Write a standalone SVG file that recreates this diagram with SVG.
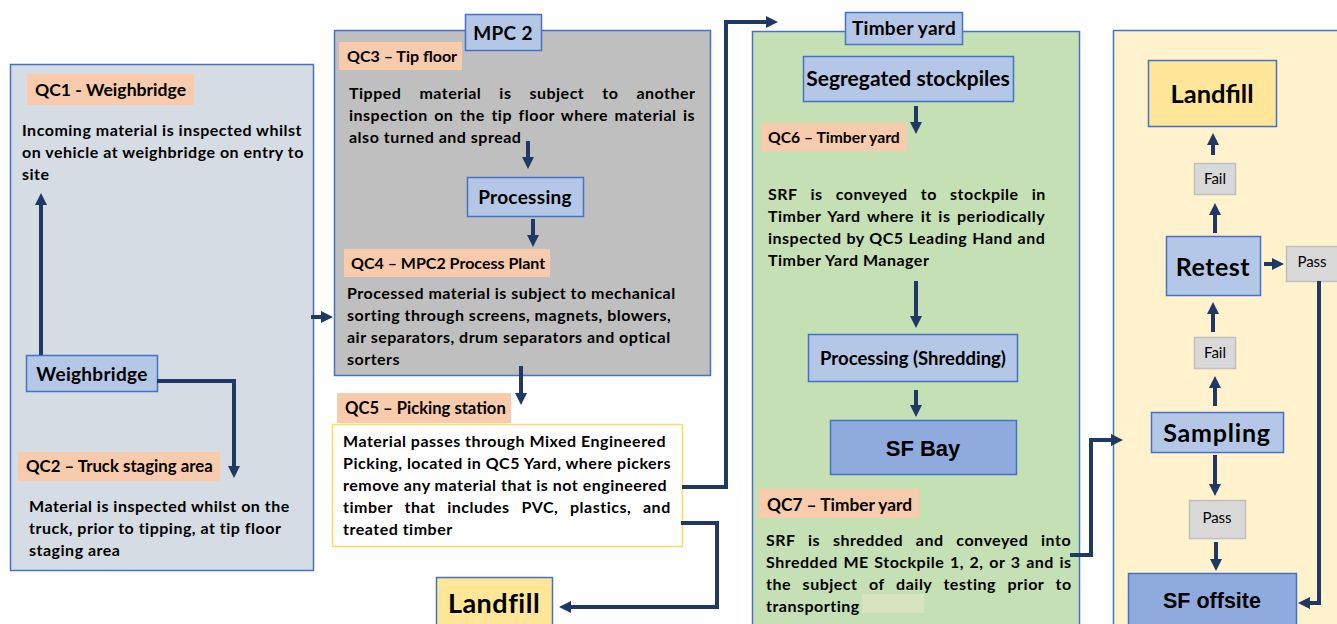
<svg xmlns="http://www.w3.org/2000/svg" width="1337" height="624" viewBox="0 0 1337 624">
<style>
text{font-family:Lato,"Open Sans","Liberation Sans",sans-serif;font-weight:bold;fill:#000}
.b{font-size:16px;letter-spacing:0.5px}
.lab{font-size:16px}
.box{fill:#b4c7e7;stroke:#4472c4;stroke-width:1.5}
.qc{fill:#f8cbad}
.ttl{font-size:19px;text-anchor:middle;letter-spacing:0.3px}
.fp{fill:#d9d9d9;stroke:#bfbfbf;stroke-width:1.5}
.fpt{font-weight:normal;font-size:15px;text-anchor:middle}
.sf{fill:#8faadc;stroke:#4472c4;stroke-width:1.5}
.ari{font-family:"Liberation Sans",Arial,sans-serif;text-anchor:middle}
.lf{fill:#ffe699;stroke:#4472c4;stroke-width:1.5}
.c{fill:none;stroke:#203864;stroke-width:4;marker-end:url(#ah)}
</style>
<defs>
<marker id="ah" markerUnits="userSpaceOnUse" markerWidth="12" markerHeight="12" viewBox="0 0 12 12" refX="4" refY="6" orient="auto">
<path d="M0,0 L12,6 L0,12 z" fill="#203864"/>
</marker>
</defs>
<rect width="1337" height="624" fill="#fff"/>

<g id="panel-weighbridge">
<rect x="10.5" y="64.5" width="303" height="506" fill="#d6dce4" stroke="#4472c4" stroke-width="1.5"/>
<rect class="qc" x="27" y="74" width="167" height="31"/>
<text x="35" y="96" font-size="17.6">QC1 - Weighbridge</text>
<text class="b" x="22" y="136">Incoming material is inspected whilst</text>
<text class="b" x="22" y="158">on vehicle at weighbridge on entry to</text>
<text class="b" x="22" y="180">site</text>
<rect class="qc" x="18" y="452" width="202" height="29"/>
<text x="26" y="472" font-size="16.8">QC2 – Truck staging area</text>
<text class="b" x="29" y="512">Material is inspected whilst on the</text>
<text class="b" x="29" y="534">truck, prior to tipping, at tip floor</text>
<text class="b" x="29" y="556">staging area</text>
</g>
<g id="node-weighbridge">
<rect class="box" x="26.5" y="355.5" width="131" height="36"/>
<text class="ttl" x="92" y="381">Weighbridge</text>
</g>

<g id="panel-mpc2">
<rect x="334.5" y="30.5" width="376" height="345" fill="#bfbfbf" stroke="#4472c4" stroke-width="1.5"/>
<rect class="qc" x="339" y="42" width="123" height="28"/>
<text class="lab" x="347" y="62">QC3 – Tip floor</text>
<text class="b" x="349" y="99" word-spacing="13.6">Tipped material is subject to another</text>
<text class="b" x="349" y="121" word-spacing="2.1">inspection on the tip floor where material is</text>
<text class="b" x="349" y="143">also turned and spread</text>
<rect class="qc" x="344" y="249" width="206" height="28"/>
<text class="lab" x="351" y="269">QC4 – MPC2 Process Plant</text>
<text class="b" x="347" y="299">Processed material is subject to mechanical</text>
<text class="b" x="347" y="321">sorting through screens, magnets, blowers,</text>
<text class="b" x="347" y="343">air separators, drum separators and optical</text>
<text class="b" x="347" y="365">sorters</text>
</g>
<g id="node-mpc2-title">
<rect class="box" x="465.5" y="14.5" width="76" height="36"/>
<text class="ttl" x="503" y="40">MPC 2</text>
</g>
<g id="node-processing">
<rect class="box" x="467.5" y="177.5" width="116" height="39"/>
<text class="ttl" x="525" y="204" font-size="20">Processing</text>
</g>

<g id="node-picking">
<rect class="qc" x="337" y="393" width="174" height="30"/>
<text x="345" y="414" font-size="16.6">QC5 – Picking station</text>
<rect x="332.5" y="424.5" width="350" height="122" fill="#fff" stroke="#ffd966" stroke-width="1.5"/>
<text class="b" x="343" y="447">Material passes through Mixed Engineered</text>
<text class="b" x="343" y="469">Picking, located in QC5 Yard, where pickers</text>
<text class="b" x="343" y="491">remove any material that is not engineered</text>
<text class="b" x="343" y="513" word-spacing="7.4">timber that includes PVC, plastics, and</text>
<text class="b" x="343" y="535">treated timber</text>
</g>
<g id="node-landfill-1">
<rect class="lf" x="436.5" y="577.5" width="116" height="50"/>
<text x="494" y="613" font-size="27" letter-spacing="0.5" text-anchor="middle">Landfill</text>
</g>

<g id="panel-timber">
<rect x="752.5" y="31.5" width="327" height="600" fill="#c5e0b4" stroke="#4472c4" stroke-width="1.5"/>
<rect class="qc" x="761" y="123" width="146" height="28"/>
<text x="768" y="143" font-size="15.7">QC6 – Timber yard</text>
<text class="b" x="768" y="200" word-spacing="8.8">SRF is conveyed to stockpile in</text>
<text class="b" x="768" y="222" word-spacing="2.2">Timber Yard where it is periodically</text>
<text class="b" x="768" y="244" word-spacing="0.6">inspected by QC5 Leading Hand and</text>
<text class="b" x="768" y="266">Timber Yard Manager</text>
<rect class="qc" x="759" y="489" width="160" height="29"/>
<text x="767" y="511" font-size="17.3">QC7 – Timber yard</text>
<text class="b" x="766" y="546" word-spacing="8.4">SRF is shredded and conveyed into</text>
<text class="b" x="766" y="568" word-spacing="1.25">Shredded ME Stockpile 1, 2, or 3 and is</text>
<text class="b" x="766" y="590" word-spacing="7.2">the subject of daily testing prior to</text>
<text class="b" x="766" y="612">transporting</text>
<rect x="862" y="594" width="62" height="19" fill="#d8e4bd"/>
</g>
<g id="node-timber-title">
<rect class="box" x="845.5" y="12.5" width="117" height="32"/>
<text class="ttl" x="904" y="35">Timber yard</text>
</g>
<g id="node-segregated">
<rect class="box" x="803.5" y="56.5" width="210" height="45"/>
<text x="908" y="86" font-size="21" text-anchor="middle">Segregated stockpiles</text>
</g>
<g id="node-shredding">
<rect class="box" x="808.5" y="334.5" width="209" height="47"/>
<text x="913" y="365" font-size="18.5" text-anchor="middle">Processing (Shredding)</text>
</g>
<g id="node-sfbay">
<rect class="sf" x="830.5" y="420.5" width="186" height="54"/>
<text class="ari" x="923" y="456" font-size="22">SF Bay</text>
</g>

<g id="panel-testing">
<rect x="1113.5" y="30.5" width="240" height="600" fill="#fff2cc" stroke="#4472c4" stroke-width="1.5"/>
</g>
<g id="node-landfill-2">
<rect class="lf" x="1148.5" y="60.5" width="128" height="66"/>
<text x="1212" y="103" font-size="25.5" text-anchor="middle">Landfill</text>
</g>
<g id="node-fail-1">
<rect class="fp" x="1194.5" y="163.5" width="41" height="31"/>
<text class="fpt" x="1215" y="184">Fail</text>
</g>
<g id="node-retest">
<rect class="box" x="1166.5" y="236.5" width="94" height="59"/>
<text x="1213" y="276" font-size="25" letter-spacing="0.5" text-anchor="middle">Retest</text>
</g>
<g id="node-pass-1">
<rect class="fp" x="1286.5" y="246.5" width="52" height="35"/>
<text class="fpt" x="1312" y="267">Pass</text>
</g>
<g id="node-fail-2">
<rect class="fp" x="1194.5" y="337.5" width="41" height="31"/>
<text class="fpt" x="1215" y="358">Fail</text>
</g>
<g id="node-sampling">
<rect class="box" x="1151.5" y="412.5" width="132" height="40"/>
<text x="1217" y="442" font-size="25" letter-spacing="0.8" text-anchor="middle">Sampling</text>
</g>
<g id="node-pass-2">
<rect class="fp" x="1189.5" y="500.5" width="56" height="38"/>
<text class="fpt" x="1217" y="523">Pass</text>
</g>
<g id="node-sfoffsite">
<rect class="sf" x="1128.5" y="573.5" width="168" height="60"/>
<text class="ari" x="1212" y="608" font-size="21.5">SF offsite</text>
</g>

<g id="connectors">
<path class="c" d="M41,355 V201"/>
<path class="c" d="M157,381 H234 V470"/>
<path class="c" d="M311,317 H325"/>
<path class="c" d="M528,141 V161"/>
<path class="c" d="M533,219 V239"/>
<path class="c" d="M521,366 V397"/>
<path class="c" d="M682,487 H726 V22 H770"/>
<path class="c" d="M681,523 H717 V607 H567"/>
<path class="c" d="M916,106 V126"/>
<path class="c" d="M916,281 V320"/>
<path class="c" d="M916,390 V409"/>
<path class="c" d="M1070,555 H1091 V440 H1115"/>
<path class="c" d="M1213,155 V141"/>
<path class="c" d="M1215,233 V211"/>
<path class="c" d="M1264,264 H1276"/>
<path class="c" d="M1319,281 V603 H1306"/>
<path class="c" d="M1213,332 V310"/>
<path class="c" d="M1215,406 V384"/>
<path class="c" d="M1215,455 V488"/>
<path class="c" d="M1216,542 V563"/>
</g>
</svg>
